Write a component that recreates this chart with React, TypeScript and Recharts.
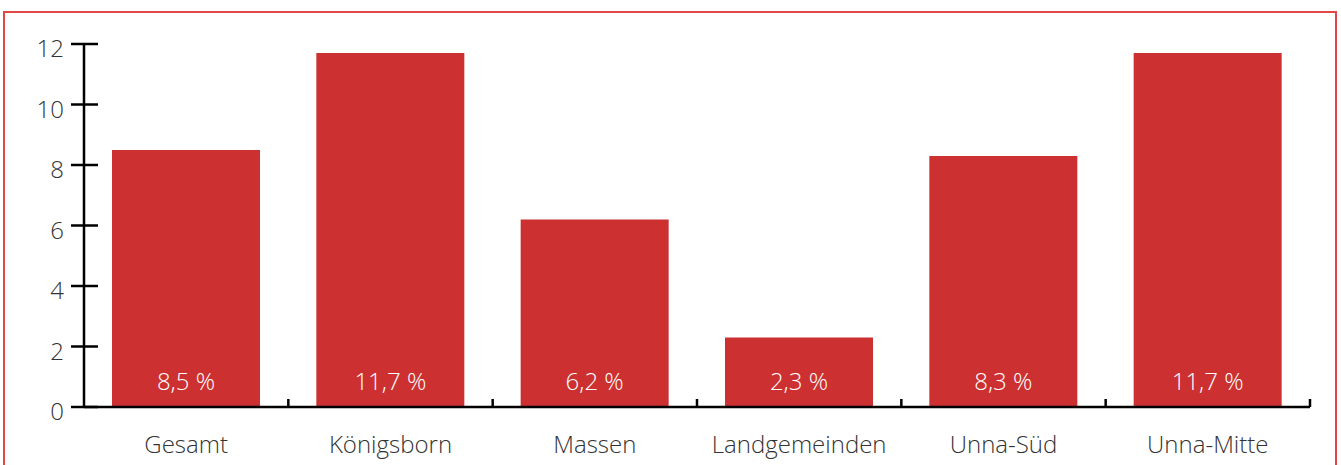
import React from 'react';
import { BarChart, Bar, XAxis, YAxis, LabelList } from 'recharts';

// Anteile je Stadtteil in Prozent
const categories = ['Gesamt', 'Königsborn', 'Massen', 'Landgemeinden', 'Unna-Süd', 'Unna-Mitte'];
const values = [8.5, 11.7, 6.2, 2.3, 8.3, 11.7];
const yTicks = [0, 2, 4, 6, 8, 10, 12];

const data = categories.map((name, i) => ({ name, value: values[i] }));

const FONT = '"Open Sans", "Noto Sans", sans-serif';
const BAR_COLOR = '#cc3030';
const TEXT_COLOR = '#333333';

const YTick = (props: any) => {
  const { x, y, payload } = props;
  return (
    <g>
      <line x1={x - 13} x2={x + 14} y1={y} y2={y} stroke="#000" strokeWidth={2.5} />
      <text x={x - 20} y={y + 13} textAnchor="end" fill={TEXT_COLOR} fontSize={24} fontFamily={FONT} fontWeight={300}>
        {payload.value}
      </text>
    </g>
  );
};

const XTick = (props: any) => {
  const { x, y, payload } = props;
  const half = payload.offset ?? 102;
  return (
    <g>
      <line x1={x + half} x2={x + half} y1={y} y2={y - 8} stroke="#000" strokeWidth={2.5} />
      <text x={x} y={y + 46} textAnchor="middle" fill={TEXT_COLOR} fontSize={24} fontFamily={FONT} fontWeight={300}>
        {payload.value}
      </text>
    </g>
  );
};

const App: React.FC = () => {
  return (
    <div style={{ position: 'absolute', left: 0, top: 0, width: 1341, height: 465, overflow: 'hidden', background: '#fff' }}>
      <div
        style={{
          position: 'absolute',
          left: 3,
          top: 11,
          width: 1330,
          height: 480,
          borderWidth: 2,
          borderStyle: 'solid',
          borderColor: '#e04848',
        }}
      />
      <div style={{ position: 'absolute', left: 0, top: 0 }}>
        <BarChart
          width={1341}
          height={465}
          data={data}
          margin={{ top: 44, right: 31, bottom: 0, left: 0 }}
          barCategoryGap="13.7%"
        >
          <YAxis
            domain={[0, 12]}
            ticks={yTicks}
            width={84}
            tickSize={0}
            tickMargin={0}
            tickLine={false}
            axisLine={{ stroke: '#000', strokeWidth: 2.5 }}
            tick={<YTick />}
            interval={0}
          />
          <XAxis
            dataKey="name"
            height={58}
            tickSize={0}
            tickMargin={0}
            tickLine={false}
            axisLine={{ stroke: '#000', strokeWidth: 2.5 }}
            tick={<XTick />}
            interval={0}
          />
          <Bar dataKey="value" fill={BAR_COLOR} isAnimationActive={false}>
            <LabelList
              dataKey="value"
              position="insideBottom"
              offset={17}
              fill="#fff"
              fontSize={24}
              fontFamily={FONT}
              fontWeight={300}
              formatter={(v: any) => `${String(v).replace('.', ',')} %`}
            />
          </Bar>
        </BarChart>
      </div>
    </div>
  );
};

export default App;
